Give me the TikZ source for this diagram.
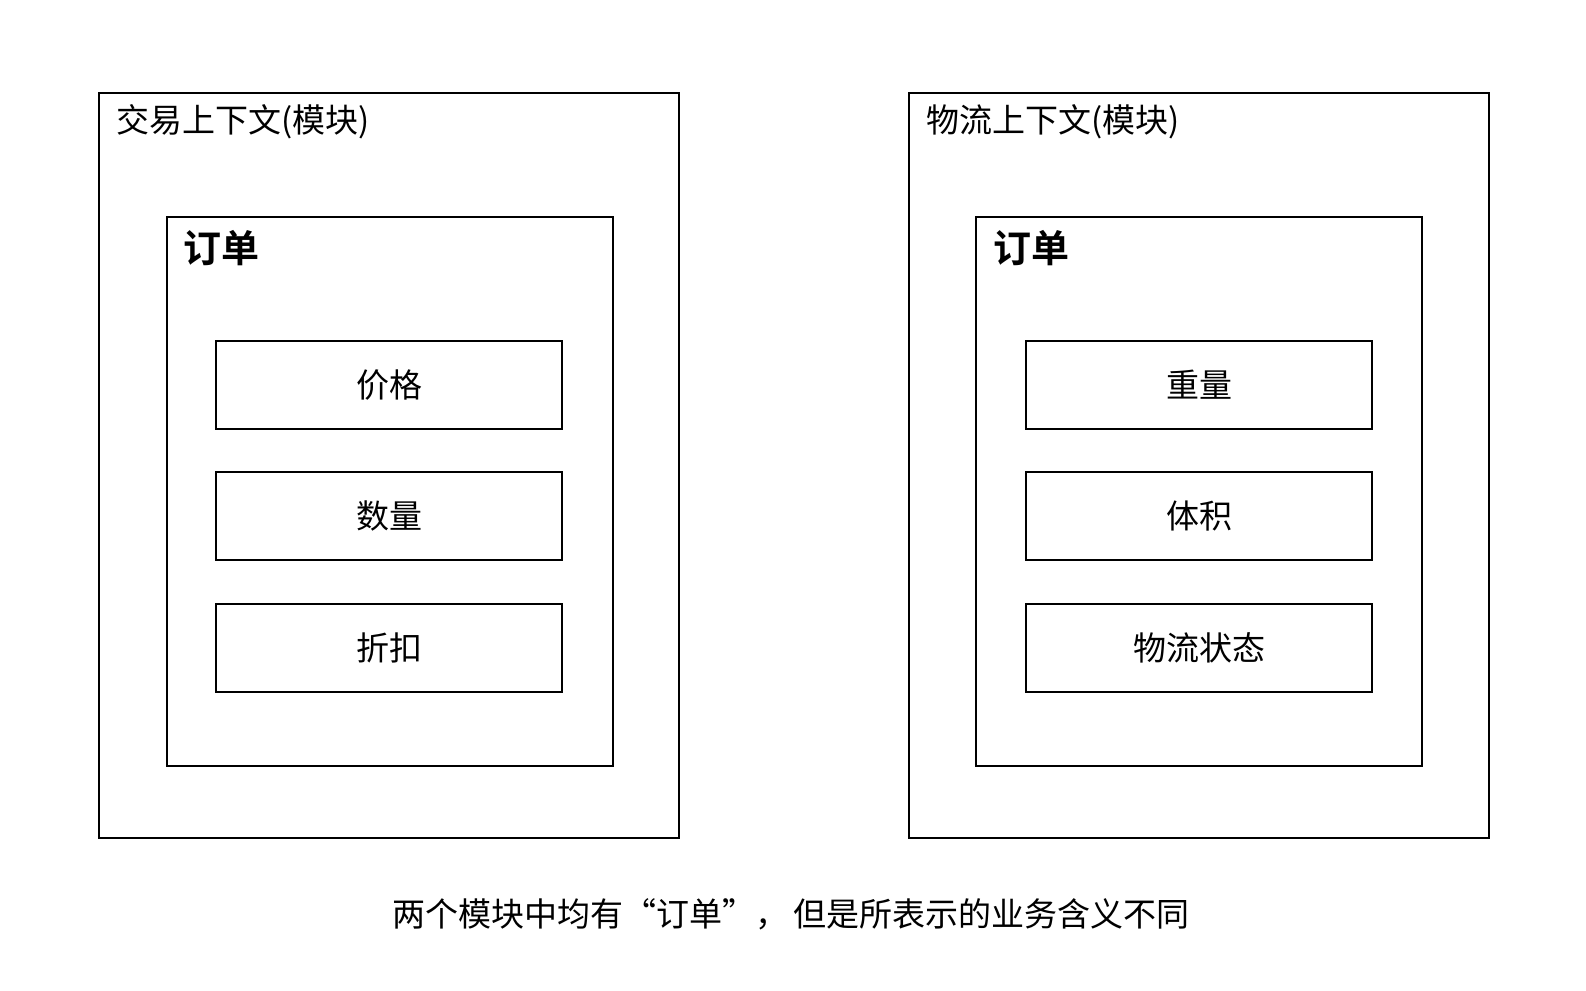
\documentclass[tikz,border=0pt]{standalone}
\usepackage{fontspec}
\setmainfont{Liberation Serif}
\newfontfamily\cjk{Noto Sans CJK SC}
\newfontfamily\cjkb{Noto Sans CJK SC Bold}
\begin{document}
\begin{tikzpicture}[x=1pt,y=-1pt,
  box/.style={draw=black,line width=2pt,inner sep=0pt,anchor=north west},
  lbl/.style={font=\fontsize{33}{38}\selectfont\cjk,inner sep=0pt},
  ttl/.style={font=\fontsize{38}{44}\selectfont\cjkb,inner sep=0pt,anchor=west}]
\useasboundingbox (0,0) rectangle (1586,990);
% left
\node[box,minimum width=580pt,minimum height=745pt] (L) at (98,92) {};
\node[lbl,anchor=west] (Lt) at (116,122) {交易上下文(模块)};
\node[box,minimum width=446pt,minimum height=549pt] (Li) at (166,216) {};
\node[ttl] (Lit) at (183,248) {订单};
\node[box,minimum width=346pt,minimum height=88pt] (L1) at (215,340) {};
\node[lbl] at (L1.center) {价格};
\node[box,minimum width=346pt,minimum height=88pt] (L2) at (215,471) {};
\node[lbl] at (L2.center) {数量};
\node[box,minimum width=346pt,minimum height=88pt] (L3) at (215,603) {};
\node[lbl] at (L3.center) {折扣};
% right
\node[box,minimum width=580pt,minimum height=745pt] (R) at (908,92) {};
\node[lbl,anchor=west] (Rt) at (926,122) {物流上下文(模块)};
\node[box,minimum width=446pt,minimum height=549pt] (Ri) at (975,216) {};
\node[ttl] (Rit) at (993,248) {订单};
\node[box,minimum width=346pt,minimum height=88pt] (R1) at (1025,340) {};
\node[lbl] at (R1.center) {重量};
\node[box,minimum width=346pt,minimum height=88pt] (R2) at (1025,471) {};
\node[lbl] at (R2.center) {体积};
\node[box,minimum width=346pt,minimum height=88pt] (R3) at (1025,603) {};
\node[lbl] at (R3.center) {物流状态};
% caption
\node[lbl] (cap) at (791,914) {两个模块中均有“订单”，\,但是所表示的业务含义不同};
\end{tikzpicture}
\end{document}
